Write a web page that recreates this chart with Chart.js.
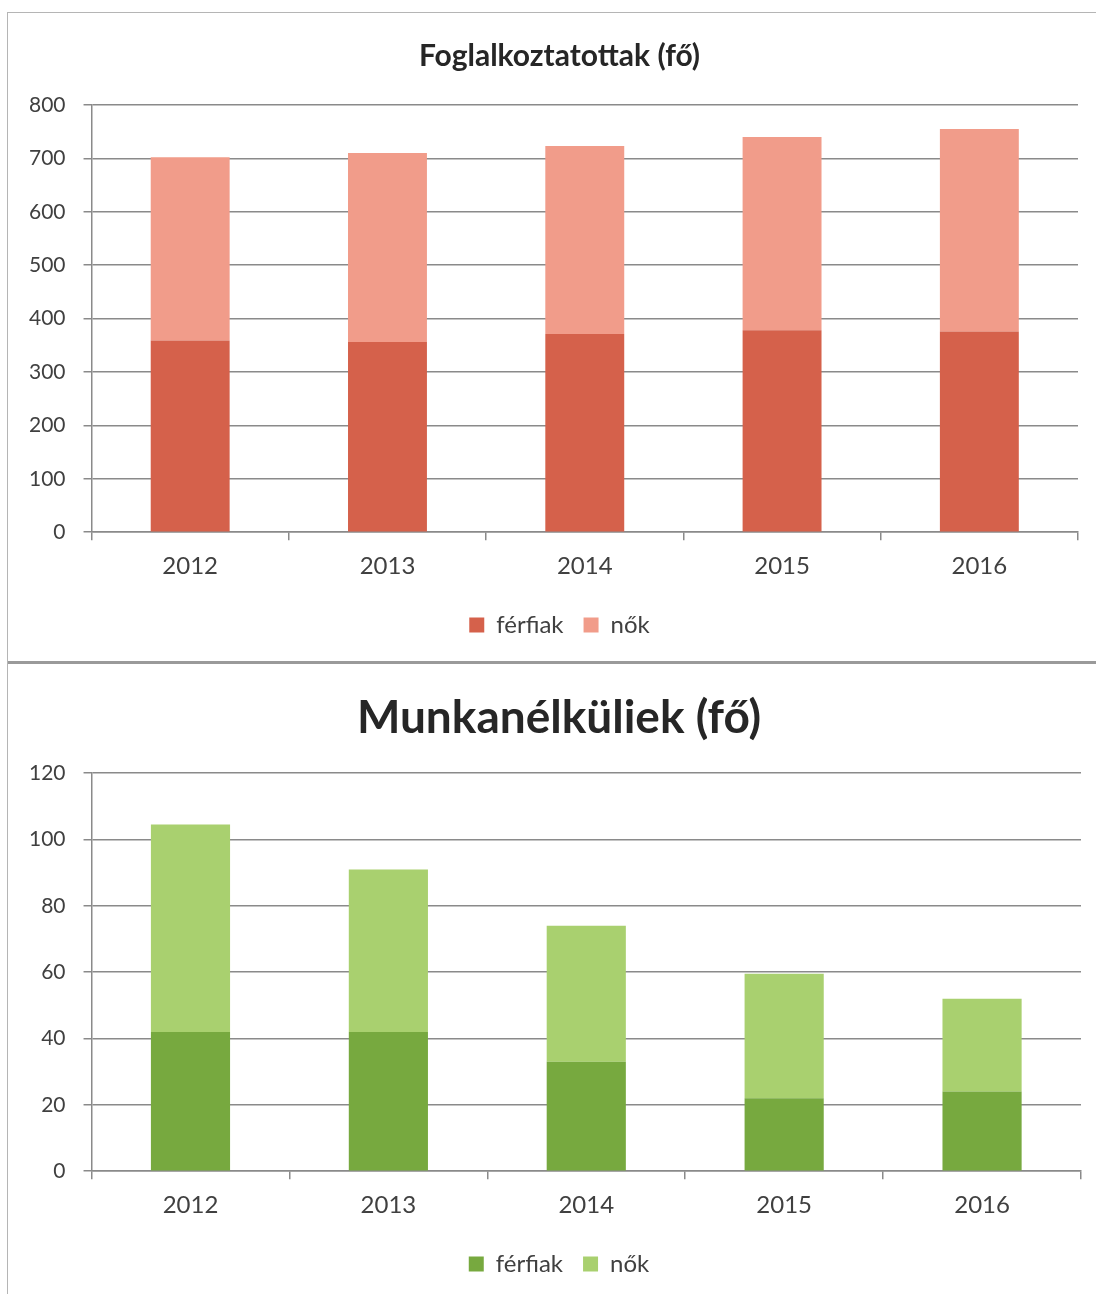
<!DOCTYPE html>
<html>
<head>
<meta charset="utf-8">
<script src="https://cdn.jsdelivr.net/npm/chart.js@4.4.1/dist/chart.umd.min.js"></script>
<style>
body { margin: 0; background: #fff; overflow: hidden; }
#frame { position: absolute; left: 7px; top: 12px; width: 1089px; border-left: 1px solid #b5b5b5; border-top: 1px solid #b5b5b5; }
.box { position: relative; width: 1088px; }
#top { height: 648px; }
#bottom { height: 630px; border-top: 3px solid #9a9a9a; }
</style>
</head>
<body>
<div id="frame">
  <div class="box" id="top"><canvas id="c1"></canvas></div>
  <div class="box" id="bottom"><canvas id="c2"></canvas></div>
</div>
<script>
// adatok
var years = ['2012', '2013', '2014', '2015', '2016']
var seriesNames = ['férfiak', 'nők']

var employedMen = [359, 356, 371, 378, 376]
var employedWomen = [343, 354, 352, 362, 379]
var employedTicks = [0, 100, 200, 300, 400, 500, 600, 700, 800]

var unemployedMen = [42, 42, 33, 22, 24]
var unemployedWomen = [62.5, 49, 41, 37.5, 28]
var unemployedTicks = [0, 20, 40, 60, 80, 100, 120]

var gridColor = '#8a8a8a'
var textColor = '#404040'
var fontName = 'Lato'

// a cím és a jelmagyarázat kicsit jobbra tolva, mint az eredetin
var shiftCenter = {
    id: 'shiftCenter',
    afterLayout: function (chart, args, opts) {
        [chart.titleBlock, chart.legend].forEach(function (b) {
            if (b) { b.left += opts.dx; b.right += opts.dx }
        })
    }
}

function makeChart(el, title, titleSize, titlePad, men, women, yTicks, colors, pad, dx) {
    return new Chart(document.getElementById(el).getContext('2d'), {
        type: 'bar',
        data: {
            labels: years,
            datasets: [{
                label: seriesNames[0],
                data: men,
                backgroundColor: colors[0],
                borderWidth: 0
            }, {
                label: seriesNames[1],
                data: women,
                backgroundColor: colors[1],
                borderWidth: 0
            }]
        },
        plugins: [shiftCenter],
        options: {
            responsive: true,
            maintainAspectRatio: false,
            animation: false,
            layout: { padding: pad },
            datasets: { bar: { categoryPercentage: 0.4, barPercentage: 1 } },
            plugins: {
                shiftCenter: { dx: dx },
                title: {
                    display: true,
                    text: title,
                    color: '#262626',
                    font: { family: fontName, size: titleSize, weight: 'bold' },
                    padding: titlePad
                },
                legend: {
                    position: 'bottom',
                    labels: {
                        color: textColor,
                        font: { family: fontName, size: 24 },
                        boxWidth: 15,
                        boxHeight: 15,
                        padding: 20
                    }
                },
                tooltip: { enabled: false }
            },
            scales: {
                x: {
                    stacked: true,
                    grid: { drawOnChartArea: false, offset: true, tickLength: 8, color: gridColor, lineWidth: 1.5 },
                    border: { color: gridColor, width: 1.5 },
                    ticks: { color: textColor, font: { family: fontName, size: 24 }, padding: 12 }
                },
                y: {
                    stacked: true,
                    min: yTicks[0],
                    max: yTicks[yTicks.length - 1],
                    afterBuildTicks: function (axis) {
                        axis.ticks = yTicks.map(function (v) { return { value: v } })
                    },
                    grid: { color: gridColor, lineWidth: 1.5, tickLength: 8 },
                    border: { color: gridColor, width: 1.5 },
                    ticks: { color: textColor, font: { family: fontName, size: 21 }, padding: 18 }
                }
            }
        }
    })
}

makeChart('c1', 'Foglalkoztatottak (fő)', 30, { top: 25, bottom: 31 },
    employedMen, employedWomen, employedTicks, ['#d5614b', '#f19c8a'],
    { left: 3, right: 18, top: 0, bottom: 14 }, 15)

makeChart('c2', 'Munkanélküliek (fő)', 46, { top: 27, bottom: 27 },
    unemployedMen, unemployedWomen, unemployedTicks, ['#77a93f', '#a9d06f'],
    { left: 3, right: 15, top: 0, bottom: 8 }, 13)
</script>
</body>
</html>
